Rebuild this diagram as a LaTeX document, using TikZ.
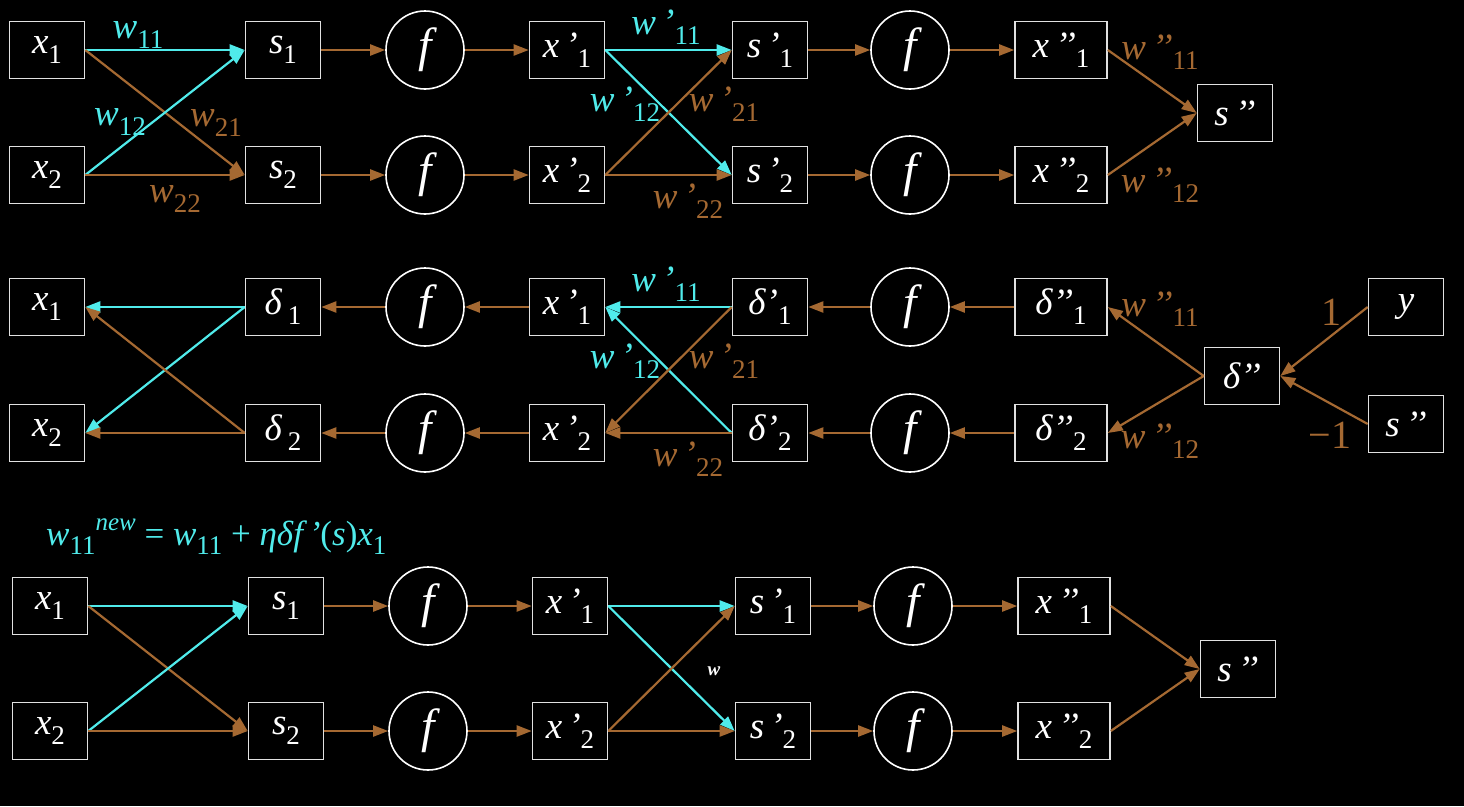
\documentclass[tikz,border=0pt]{standalone}
\usepackage{fontspec}
\setmainfont{Liberation Serif}
\usetikzlibrary{arrows.meta,positioning}
\definecolor{wcyan}{RGB}{80,235,235}
\definecolor{wbrown}{RGB}{165,105,50}
\definecolor{boxline}{RGB}{225,225,225}
\newcommand\lowsub[1]{\lower0.27em\hbox{\fontsize{27}{27}\selectfont#1}}
\newcommand\nv[2]{\textit{#1}\lowsub{#2}}
\tikzset{
  unit/.style={rectangle,draw=boxline,line width=1.6pt,fill=black,text=white,
    minimum width=75pt,minimum height=57pt,inner sep=0pt,font=\fontsize{37}{42}\selectfont},
  wunit/.style={unit,minimum width=92pt},
  fun/.style={circle,draw=white,line width=1.6pt,fill=black,text=white,
    minimum size=78pt,inner sep=0pt,font=\fontsize{48}{50}\selectfont\itshape},
  fwd/.style={-{Triangle[length=15pt,width=11pt]},line width=2.2pt,color=wbrown},
  cfwd/.style={fwd,color=wcyan},
  wlab/.style={font=\fontsize{37}{42}\selectfont,text=wbrown,inner sep=0pt},
  cwlab/.style={wlab,text=wcyan},
}
\begin{document}
\begin{tikzpicture}[x=1pt,y=-1pt]
  \fill[black] (0,0) rectangle (1464,806);
  % forward pass
  \node[unit] (x1) at (47,50) {\nv{x}{1}};
  \node[unit] (x2) at (47,175) {\nv{x}{2}};
  \node[unit] (s1) at (283,50) {\nv{s}{1}};
  \node[unit] (s2) at (283,175) {\nv{s}{2}};
  \node[fun] (f1) at (425,50) {f};
  \node[fun] (f2) at (425,175) {f};
  \node[unit] (xp1) at (567,50) {\nv{x\,’}{1}};
  \node[unit] (xp2) at (567,175) {\nv{x\,’}{2}};
  \node[unit] (sp1) at (770,50) {\nv{s\,’}{1}};
  \node[unit] (sp2) at (770,175) {\nv{s\,’}{2}};
  \node[fun] (g1) at (910,50) {f};
  \node[fun] (g2) at (910,175) {f};
  \node[wunit] (xq1) at (1061,50) {\nv{x\,’’}{1}};
  \node[wunit] (xq2) at (1061,175) {\nv{x\,’’}{2}};
  \node[unit] (sq) at (1235,113) {\textit{s\,’’}};
  \draw[cfwd] (x1.east) -- (s1.west); \draw[fwd] (x1.east) -- (s2.west);
  \draw[cfwd] (x2.east) -- (s1.west); \draw[fwd] (x2.east) -- (s2.west);
  \draw[fwd] (s1) -- (f1); \draw[fwd] (s2) -- (f2);
  \draw[fwd] (f1) -- (xp1); \draw[fwd] (f2) -- (xp2);
  \draw[cfwd] (xp1.east) -- (sp1.west); \draw[cfwd] (xp1.east) -- (sp2.west);
  \draw[fwd] (xp2.east) -- (sp1.west); \draw[fwd] (xp2.east) -- (sp2.west);
  \draw[fwd] (sp1) -- (g1); \draw[fwd] (sp2) -- (g2);
  \draw[fwd] (g1) -- (xq1); \draw[fwd] (g2) -- (xq2);
  \draw[fwd] (xq1.east) -- (sq.west); \draw[fwd] (xq2.east) -- (sq.west);
  \node[cwlab] (a11) at (138,35) {\nv{w}{11}};
  \node[cwlab] (a12) at (120,122) {\nv{w}{12}};
  \node[wlab] (a21) at (216,123) {\nv{w}{21}};
  \node[wlab] (a22) at (175,199) {\nv{w}{22}};
  \node[cwlab] (b11) at (666,27) {\nv{w\,’}{11}};
  \node[cwlab] (b12) at (625,104) {\nv{w\,’}{12}};
  \node[wlab] (b21) at (724,104) {\nv{w\,’}{21}};
  \node[wlab] (b22) at (688,201) {\nv{w\,’}{22}};
  \node[wlab] (c11) at (1160,52) {\nv{w\,’’}{11}};
  \node[wlab] (c12) at (1160,185) {\nv{w\,’’}{12}};
  % backward pass
  \node[unit] (dx1) at (47,307) {\nv{x}{1}};
  \node[unit] (dx2) at (47,433) {\nv{x}{2}};
  \node[unit] (d1) at (283,307) {\nv{δ\,}{1}};
  \node[unit] (d2) at (283,433) {\nv{δ\,}{2}};
  \node[fun] (h1) at (425,307) {f};
  \node[fun] (h2) at (425,433) {f};
  \node[unit] (dxp1) at (567,307) {\nv{x\,’}{1}};
  \node[unit] (dxp2) at (567,433) {\nv{x\,’}{2}};
  \node[unit] (dp1) at (770,307) {\nv{δ’}{1}};
  \node[unit] (dp2) at (770,433) {\nv{δ’}{2}};
  \node[fun] (k1) at (910,307) {f};
  \node[fun] (k2) at (910,433) {f};
  \node[wunit] (dq1) at (1061,307) {\nv{δ’’}{1}};
  \node[wunit] (dq2) at (1061,433) {\nv{δ’’}{2}};
  \node[unit] (dq) at (1242,376) {\textit{δ’’}};
  \node[unit] (yy) at (1406,307) {\textit{y}};
  \node[unit] (dsq) at (1406,424) {\textit{s\,’’}};
  \draw[cfwd] (d1.west) -- (dx1.east); \draw[cfwd] (d1.west) -- (dx2.east);
  \draw[fwd] (d2.west) -- (dx1.east); \draw[fwd] (d2.west) -- (dx2.east);
  \draw[fwd] (h1) -- (d1); \draw[fwd] (h2) -- (d2);
  \draw[fwd] (dxp1) -- (h1); \draw[fwd] (dxp2) -- (h2);
  \draw[cfwd] (dp1.west) -- (dxp1.east); \draw[cfwd] (dp2.west) -- (dxp1.east);
  \draw[fwd] (dp1.west) -- (dxp2.east); \draw[fwd] (dp2.west) -- (dxp2.east);
  \draw[fwd] (k1) -- (dp1); \draw[fwd] (k2) -- (dp2);
  \draw[fwd] (dq1) -- (k1); \draw[fwd] (dq2) -- (k2);
  \draw[fwd] (dq.west) -- (dq1.east); \draw[fwd] (dq.west) -- (dq2.east);
  \draw[fwd] (yy.west) -- (dq.east); \draw[fwd] (dsq.west) -- (dq.east);
  \node[cwlab] (e11) at (666,284) {\nv{w\,’}{11}};
  \node[cwlab] (e12) at (625,361) {\nv{w\,’}{12}};
  \node[wlab] (e21) at (724,361) {\nv{w\,’}{21}};
  \node[wlab] (e22) at (688,459) {\nv{w\,’}{22}};
  \node[wlab] (g11) at (1160,309) {\nv{w\,’’}{11}};
  \node[wlab] (g12) at (1160,441) {\nv{w\,’’}{12}};
  \node[wlab,font=\fontsize{40}{42}\selectfont] (one) at (1331,312) {1};
  \node[wlab,font=\fontsize{40}{42}\selectfont] (mone) at (1330,435) {−1};
  % update
  \node[cwlab,anchor=west,font=\fontsize{35}{40}\selectfont] (rule) at (46,537)
    {\nv{w}{11}\raisebox{0.42em}{\fontsize{25}{25}\selectfont\itshape new} = \nv{w}{11} + \textit{ηδf\,’}(\textit{s})\nv{x}{1}};
  \node[unit] (ux1) at (50,606) {\nv{x}{1}};
  \node[unit] (ux2) at (50,731) {\nv{x}{2}};
  \node[unit] (us1) at (286,606) {\nv{s}{1}};
  \node[unit] (us2) at (286,731) {\nv{s}{2}};
  \node[fun] (uf1) at (428,606) {f};
  \node[fun] (uf2) at (428,731) {f};
  \node[unit] (uxp1) at (570,606) {\nv{x\,’}{1}};
  \node[unit] (uxp2) at (570,731) {\nv{x\,’}{2}};
  \node[unit] (usp1) at (773,606) {\nv{s\,’}{1}};
  \node[unit] (usp2) at (773,731) {\nv{s\,’}{2}};
  \node[fun] (ug1) at (913,606) {f};
  \node[fun] (ug2) at (913,731) {f};
  \node[wunit] (uxq1) at (1064,606) {\nv{x\,’’}{1}};
  \node[wunit] (uxq2) at (1064,731) {\nv{x\,’’}{2}};
  \node[unit] (usq) at (1238,669) {\textit{s\,’’}};
  \draw[cfwd] (ux1.east) -- (us1.west); \draw[fwd] (ux1.east) -- (us2.west);
  \draw[cfwd] (ux2.east) -- (us1.west); \draw[fwd] (ux2.east) -- (us2.west);
  \draw[fwd] (us1) -- (uf1); \draw[fwd] (us2) -- (uf2);
  \draw[fwd] (uf1) -- (uxp1); \draw[fwd] (uf2) -- (uxp2);
  \draw[cfwd] (uxp1.east) -- (usp1.west); \draw[cfwd] (uxp1.east) -- (usp2.west);
  \draw[fwd] (uxp2.east) -- (usp1.west); \draw[fwd] (uxp2.east) -- (usp2.west);
  \draw[fwd] (usp1) -- (ug1); \draw[fwd] (usp2) -- (ug2);
  \draw[fwd] (ug1) -- (uxq1); \draw[fwd] (ug2) -- (uxq2);
  \draw[fwd] (uxq1.east) -- (usq.west); \draw[fwd] (uxq2.east) -- (usq.west);
  \node[wlab,text=white,font=\fontsize{19}{20}\selectfont\bfseries\itshape] (uw) at (714,671) {w};
\end{tikzpicture}
\end{document}
